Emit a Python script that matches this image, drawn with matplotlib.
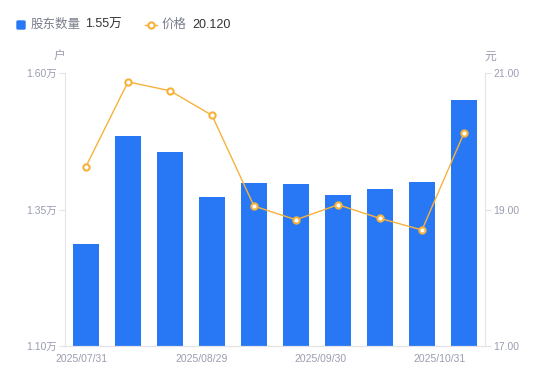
import matplotlib
matplotlib.use("Agg")
import matplotlib.pyplot as plt
import numpy as np

plt.rcParams['font.family'] = ['Liberation Sans', 'Noto Sans CJK SC', 'DejaVu Sans']

# data
holders = [1.287, 1.485, 1.455, 1.373, 1.398, 1.396, 1.376, 1.388, 1.400, 1.550]  # 万户
price = [19.63, 20.87, 20.74, 20.38, 19.05, 18.85, 19.07, 18.87, 18.70, 20.12]
date_labels = ["2025/07/31", "2025/08/29", "2025/09/30", "2025/10/31"]
date_pos = [-0.1, 2.75, 5.58, 8.43]

blue = "#2878f5"
orange = "#f7b23b"
grey = "#9a9db0"
axcol = "#e3e3e8"

fig = plt.figure(figsize=(5.5, 3.81), dpi=100)
ax = fig.add_axes([65 / 550, 35 / 381, 420 / 550, 273 / 381])
ax2 = ax.twinx()

x = np.arange(len(holders))
ax.bar(x, holders, width=0.6, color=blue, zorder=2)
ax2.plot(x, price, color=orange, lw=1, marker="o", ms=4.5,
         mfc="white", mec=orange, mew=1.5, zorder=3)

ax.set_xlim(-0.5, len(holders) - 0.5)
ax.set_ylim(1.10, 1.60)
ax2.set_ylim(17, 21)

ax.set_yticks([1.10, 1.35, 1.60])
ax.set_yticklabels(["1.10万", "1.35万", "1.60万"])
ax2.set_yticks([17, 19, 21])
ax2.set_yticklabels(["17.00", "19.00", "21.00"])

ax.set_xticks(date_pos)
ax.set_xticklabels(date_labels)

for a in (ax, ax2):
    a.spines['top'].set_visible(False)
    for s in ('left', 'right', 'bottom'):
        a.spines[s].set_color(axcol)
    a.tick_params(axis='y', colors=axcol, labelcolor=grey, labelsize=7.5,
                  length=4, width=0.8, pad=2)
ax.tick_params(axis='x', length=0, labelcolor=grey, labelsize=7.5, pad=6)
ax2.spines['left'].set_visible(False)
ax.spines['right'].set_visible(False)

# unit labels
fig.text(59 / 550, 1 - 57 / 381, "户", color=grey, fontsize=8.5, ha="center", va="center")
fig.text(490 / 550, 1 - 57 / 381, "元", color=grey, fontsize=8.5, ha="center", va="center")

# legend
ly = 1 - 25 / 381
fig.patches.append(matplotlib.patches.FancyBboxPatch(
    (17 / 550, 1 - 29 / 381), 8 / 550, 8 / 381, boxstyle="round,pad=0,rounding_size=0.002",
    transform=fig.transFigure, color=blue))
fig.text(31 / 550, ly, "股东数量", color="#7a7d8c", fontsize=9, va="center")
fig.text(85 / 550, ly, "1.55万", color="#333333", fontsize=9, va="center")
fig.lines.append(matplotlib.lines.Line2D([145 / 550, 151 / 550, 157 / 550], [ly, ly, ly],
                                         transform=fig.transFigure, color=orange, lw=1,
                                         marker="o", ms=4.5, mfc="white", mec=orange, mew=1.5,
                                         markevery=[1]))
fig.text(162 / 550, ly, "价格", color="#7a7d8c", fontsize=9, va="center")
fig.text(192 / 550, ly, "20.120", color="#333333", fontsize=9, va="center")

fig.savefig("out.png", dpi=100)
